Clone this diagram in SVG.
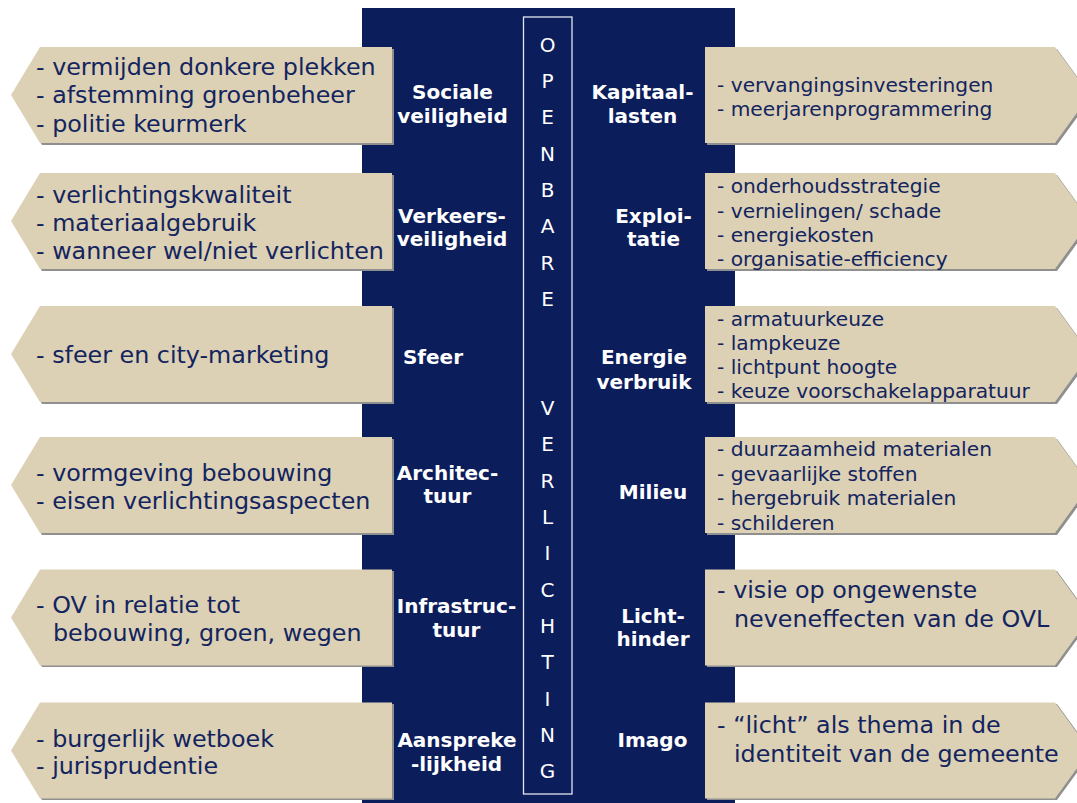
<svg xmlns="http://www.w3.org/2000/svg" xmlns:xlink="http://www.w3.org/1999/xlink" width="1077" height="803" viewBox="0 0 1077 803">
<style>
  .band{fill:#0b1d5b}
  .box{fill:#dcd1b5}
  .shadow{fill:#8f8f8f}
  .col{fill:none;stroke:#e4e6ee;stroke-width:1.3}
  .tl{font-family:"DejaVu Sans",Verdana,sans-serif;font-size:23.8px;fill:#13245e}
  .ts{font-family:"DejaVu Sans",Verdana,sans-serif;font-size:20.2px;fill:#13245e}
  .lab{font-family:"DejaVu Sans",Verdana,sans-serif;font-size:20px;font-weight:bold;fill:#ffffff;text-anchor:middle}
  .let{font-family:"DejaVu Sans",Verdana,sans-serif;font-size:20px;fill:#ffffff;text-anchor:middle}
</style>
<defs>
  <path id="L" d="M40,0 H392 V96 H40 L11,48 Z"/>
  <path id="R" d="M705,0 H1055 L1090,48 L1055,96 H705 Z"/>
</defs>
<rect width="1077" height="803" fill="#ffffff"/>
<g id="band">
  <rect class="band" x="362" y="8" width="373" height="795"/>
  <rect class="col" x="523.5" y="17" width="48.5" height="777"/>
</g>
<g id="title">
  <text class="let" x="547.5" y="51.5">O</text>
  <text class="let" x="547.5" y="87.8">P</text>
  <text class="let" x="547.5" y="124.2">E</text>
  <text class="let" x="547.5" y="160.5">N</text>
  <text class="let" x="547.5" y="196.9">B</text>
  <text class="let" x="547.5" y="233.2">A</text>
  <text class="let" x="547.5" y="269.5">R</text>
  <text class="let" x="547.5" y="305.9">E</text>
  <text class="let" x="547.5" y="414.9">V</text>
  <text class="let" x="547.5" y="451.2">E</text>
  <text class="let" x="547.5" y="487.6">R</text>
  <text class="let" x="547.5" y="523.9">L</text>
  <text class="let" x="547.5" y="560.3">I</text>
  <text class="let" x="547.5" y="596.6">C</text>
  <text class="let" x="547.5" y="632.9">H</text>
  <text class="let" x="547.5" y="669.3">T</text>
  <text class="let" x="547.5" y="705.6">I</text>
  <text class="let" x="547.5" y="742">N</text>
  <text class="let" x="547.5" y="778.3">G</text>
</g>
<g id="connectors"></g>

<g id="sociale-veiligheid">
  <use xlink:href="#L" href="#L" class="shadow" x="2" y="49"/>
  <use xlink:href="#L" href="#L" class="box" y="47"/>
  <text class="tl" x="36" y="75">- vermijden donkere plekken</text>
  <text class="tl" x="36" y="103.3">- afstemming groenbeheer</text>
  <text class="tl" x="36" y="131.6">- politie keurmerk</text>
  <text class="lab" x="452.5" y="99">Sociale</text>
  <text class="lab" x="452.5" y="123">veiligheid</text>
</g>
<g id="verkeersveiligheid">
  <use xlink:href="#L" href="#L" class="shadow" x="2" y="175"/>
  <use xlink:href="#L" href="#L" class="box" y="173"/>
  <text class="tl" x="36" y="202.5">- verlichtingskwaliteit</text>
  <text class="tl" x="36" y="231">- materiaalgebruik</text>
  <text class="tl" x="36" y="259.4">- wanneer wel/niet verlichten</text>
  <text class="lab" x="452" y="222.7">Verkeers-</text>
  <text class="lab" x="452" y="246">veiligheid</text>
</g>
<g id="sfeer">
  <use xlink:href="#L" href="#L" class="shadow" x="2" y="308"/>
  <use xlink:href="#L" href="#L" class="box" y="306"/>
  <text class="tl" x="36" y="362.7">- sfeer en city-marketing</text>
  <text class="lab" x="433" y="364.3">Sfeer</text>
</g>
<g id="architectuur">
  <use xlink:href="#L" href="#L" class="shadow" x="2" y="439"/>
  <use xlink:href="#L" href="#L" class="box" y="437"/>
  <text class="tl" x="36" y="481">- vormgeving bebouwing</text>
  <text class="tl" x="36" y="509.3">- eisen verlichtingsaspecten</text>
  <text class="lab" x="447.5" y="480">Architec-</text>
  <text class="lab" x="447.5" y="503.3">tuur</text>
</g>
<g id="infrastructuur">
  <use xlink:href="#L" href="#L" class="shadow" x="2" y="571"/>
  <use xlink:href="#L" href="#L" class="box" y="569.5"/>
  <text class="tl" x="36" y="613.3">- OV in relatie tot</text>
  <text class="tl" x="53" y="640.7">bebouwing, groen, wegen</text>
  <text class="lab" x="456.5" y="612.7">Infrastruc-</text>
  <text class="lab" x="456.5" y="636.7">tuur</text>
</g>
<g id="aansprakelijkheid">
  <use xlink:href="#L" href="#L" class="shadow" x="2" y="704"/>
  <use xlink:href="#L" href="#L" class="box" y="702.5"/>
  <text class="tl" x="36" y="746.7">- burgerlijk wetboek</text>
  <text class="tl" x="36" y="774.3">- jurisprudentie</text>
  <text class="lab" x="457" y="746.7">Aanspreke</text>
  <text class="lab" x="456.5" y="770.7">-lijkheid</text>
</g>

<g id="kapitaallasten">
  <use xlink:href="#R" href="#R" class="shadow" x="2" y="49"/>
  <use xlink:href="#R" href="#R" class="box" y="47"/>
  <text class="ts" x="717" y="91.7">- vervangingsinvesteringen</text>
  <text class="ts" x="717" y="115.5">- meerjarenprogrammering</text>
  <text class="lab" x="642.5" y="99">Kapitaal-</text>
  <text class="lab" x="642.5" y="123">lasten</text>
</g>
<g id="exploitatie">
  <use xlink:href="#R" href="#R" class="shadow" x="2" y="175"/>
  <use xlink:href="#R" href="#R" class="box" y="173"/>
  <text class="ts" x="717" y="193.3">- onderhoudsstrategie</text>
  <text class="ts" x="717" y="217.5">- vernielingen/ schade</text>
  <text class="ts" x="717" y="241.7">- energiekosten</text>
  <text class="ts" x="717" y="266">- organisatie-efficiency</text>
  <text class="lab" x="653.5" y="222.7">Exploi-</text>
  <text class="lab" x="653.5" y="246">tatie</text>
</g>
<g id="energieverbruik">
  <use xlink:href="#R" href="#R" class="shadow" x="2" y="308"/>
  <use xlink:href="#R" href="#R" class="box" y="306"/>
  <text class="ts" x="717" y="325.7">- armatuurkeuze</text>
  <text class="ts" x="717" y="349.5">- lampkeuze</text>
  <text class="ts" x="717" y="373.5">- lichtpunt hoogte</text>
  <text class="ts" x="717" y="397.7">- keuze voorschakelapparatuur</text>
  <text class="lab" x="644" y="364">Energie</text>
  <text class="lab" x="644" y="389">verbruik</text>
</g>
<g id="milieu">
  <use xlink:href="#R" href="#R" class="shadow" x="2" y="439"/>
  <use xlink:href="#R" href="#R" class="box" y="437"/>
  <text class="ts" x="717" y="456">- duurzaamheid materialen</text>
  <text class="ts" x="717" y="480.5">- gevaarlijke stoffen</text>
  <text class="ts" x="717" y="505">- hergebruik materialen</text>
  <text class="ts" x="717" y="529.5">- schilderen</text>
  <text class="lab" x="653" y="499">Milieu</text>
</g>
<g id="lichthinder">
  <use xlink:href="#R" href="#R" class="shadow" x="2" y="571"/>
  <use xlink:href="#R" href="#R" class="box" y="569.5"/>
  <text class="tl" x="717" y="598.3">- visie op ongewenste</text>
  <text class="tl" x="734" y="626.7">neveneffecten van de OVL</text>
  <text class="lab" x="653" y="622.7">Licht-</text>
  <text class="lab" x="653" y="646">hinder</text>
</g>
<g id="imago">
  <use xlink:href="#R" href="#R" class="shadow" x="2" y="704"/>
  <use xlink:href="#R" href="#R" class="box" y="702.5"/>
  <text class="tl" x="717" y="733.3">- “licht” als thema in de</text>
  <text class="tl" x="734" y="761.7">identiteit van de gemeente</text>
  <text class="lab" x="652.5" y="746.7">Imago</text>
</g>
</svg>
